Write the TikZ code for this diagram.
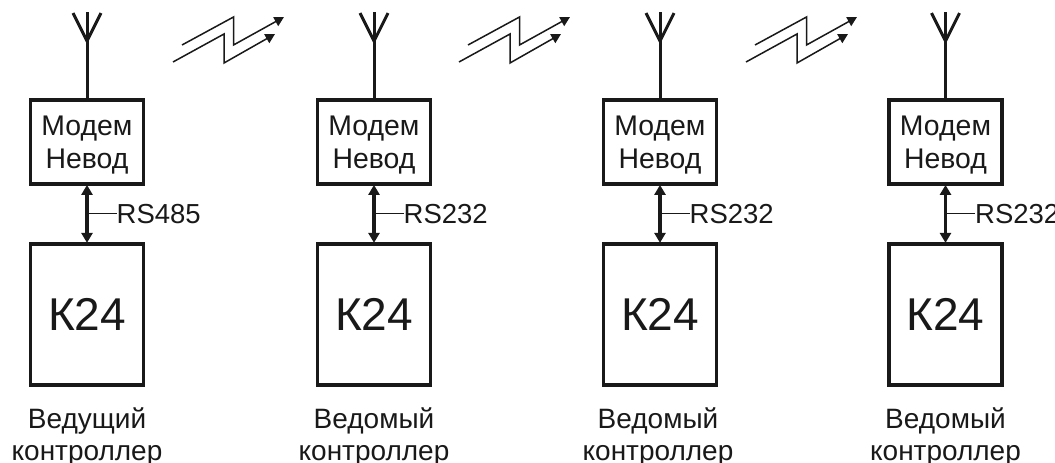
\documentclass[tikz,border=0pt]{standalone}
\usepackage{fontspec}
\setmainfont{Liberation Sans}
\usetikzlibrary{positioning,arrows.meta,calc}
\newcommand{\modemname}{\rule{0pt}{25pt}Модем\\Невод}

\begin{document}
\begin{tikzpicture}[
  x=1pt, y=-1pt,
  modembox/.style={draw=black!90, line width=3.8pt, align=center, font=\fontsize{28.4}{33}\selectfont, text=black!90, minimum width=113pt, minimum height=84pt, inner sep=0pt},
  ctrlbox/.style={draw=black!90, line width=3.8pt, font=\fontsize{46}{50}\selectfont, text=black!90, minimum width=113pt, minimum height=141pt, inner sep=0pt},
  caption/.style={align=center, font=\fontsize{28}{32}\selectfont, inner sep=0pt, text=black!90},
  rslabel/.style={font=\fontsize{27.5}{32}\selectfont, inner sep=0pt, text=black!90},
  bus/.style={{Triangle[length=10pt,width=11pt]}-{Triangle[length=10pt,width=11pt]}, line width=3.2pt, draw=black!90, shorten <=-1pt, shorten >=-1pt},
  leader/.style={line width=1pt, draw=black!90},
  mast/.style={line width=3pt, draw=black!90, line cap=butt, line join=miter},
  bolt/.style={-{Triangle[length=9.5pt,width=10pt]}, line width=1.5pt, draw=black!90}
]
  \useasboundingbox (0,0) rectangle (1055,463);

  \node[modembox] (modema) at (87,142) {\modemname};
  \node[modembox] (modemb) at (374,142) {\modemname};
  \node[modembox] (modemc) at (660,142) {\modemname};
  \node[modembox] (modemd) at (945.5,142) {\modemname};

  \node[ctrlbox, below=56pt of modema] (ctrla) {К24};
  \node[ctrlbox, below=56pt of modemb] (ctrlb) {К24};
  \node[ctrlbox, below=56pt of modemc] (ctrlc) {К24};
  \node[ctrlbox, below=56pt of modemd] (ctrld) {К24};

  \draw[bus] (modema) -- (ctrla) coordinate[midway] (busa);
  \draw[bus] (modemb) -- (ctrlb) coordinate[midway] (busb);
  \draw[bus] (modemc) -- (ctrlc) coordinate[midway] (busc);
  \draw[bus] (modemd) -- (ctrld) coordinate[midway] (busd);

  \node[rslabel, right=29.5pt of busa] (rsa) {RS485};
  \node[rslabel, right=29.5pt of busb] (rsb) {RS232};
  \node[rslabel, right=29.5pt of busc] (rsc) {RS232};
  \node[rslabel, right=29.5pt of busd] (rsd) {RS232};

  \draw[leader] (busa) -- (rsa);
  \draw[leader] (busb) -- (rsb);
  \draw[leader] (busc) -- (rsc);
  \draw[leader] (busd) -- (rsd);

  \node[caption, anchor=north] (capa) at ($(ctrla.south)+(0,21)$) {Ведущий\\контроллер};
  \node[caption, anchor=north] (capb) at ($(ctrlb.south)+(0,21)$) {Ведомый\\контроллер};
  \node[caption, anchor=north] (capc) at ($(ctrlc.south)+(-2,21)$) {Ведомый\\контроллер};
  \node[caption, anchor=north] (capd) at ($(ctrld.south)+(0,21)$) {Ведомый\\контроллер};

  % antennas
  \draw[mast] (modema.north) -- ++(0,-86) coordinate (anta);
  \draw[mast] (modemb.north) -- ++(0,-86) coordinate (antb);
  \draw[mast] (modemc.north) -- ++(0,-86) coordinate (antc);
  \draw[mast] (modemd.north) -- ++(0,-86) coordinate (antd);
  \draw[mast] ($(anta)+(-14,1)$) -- ($(anta)+(0,29)$) -- ($(anta)+(14,1)$);
  \draw[mast] ($(antb)+(-14,1)$) -- ($(antb)+(0,29)$) -- ($(antb)+(14,1)$);
  \draw[mast] ($(antc)+(-14,1)$) -- ($(antc)+(0,29)$) -- ($(antc)+(14,1)$);
  \draw[mast] ($(antd)+(-14,1)$) -- ($(antd)+(0,29)$) -- ($(antd)+(14,1)$);

  % radio links
  \draw[bolt] (182,45) -- (233.5,17) -- (233.5,45) -- (284,17);
  \draw[bolt] (173,62) -- (224,34) -- (224,63) -- (275,34);
  \draw[bolt] (468,45) -- (519.5,17) -- (519.5,45) -- (570,17);
  \draw[bolt] (459,62) -- (510,34) -- (510,63) -- (561,34);
  \draw[bolt] (755,45) -- (806.5,17) -- (806.5,45) -- (857,17);
  \draw[bolt] (746,62) -- (797,34) -- (797,63) -- (848,34);
\end{tikzpicture}
\end{document}
